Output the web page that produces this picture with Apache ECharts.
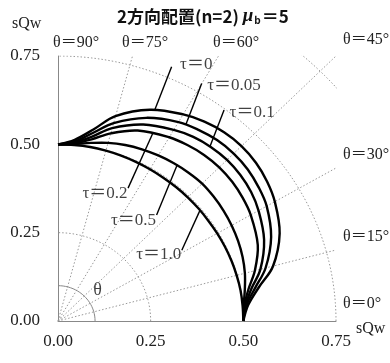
<!DOCTYPE html>
<html>
<head>
<meta charset="utf-8">
<script src="https://cdn.jsdelivr.net/npm/echarts@6/dist/echarts.min.js"></script>
<style>
  html, body { margin: 0; padding: 0; background: #fff; }
  #chart { width: 390px; height: 363px; }
</style>
</head>
<body>
<div id="chart"></div>
<script>
// Axis ticks (both axes share the same scale)
const tickValues = [0, 0.25, 0.5, 0.75];

// Polar guide lines: angle rays (deg) and radius arcs
const guideAngles = [15, 30, 45, 60, 75];
const guideRadii = [0.25, 0.5, 0.75, 1.0];
const thetaMarkRadius = 0.1;

// Interaction curves, one per τ value
const tauNames = ['τ＝0', 'τ＝0.05', 'τ＝0.1', 'τ＝0.2', 'τ＝0.5', 'τ＝1.0'];

const curveTau0 = [
  [0, 0.5], [0.045, 0.513], [0.0955, 0.542], [0.155, 0.58], [0.248, 0.598],
  [0.3375, 0.585], [0.395, 0.564], [0.448, 0.534], [0.495, 0.495], [0.534, 0.448], [0.564, 0.395],
  [0.585, 0.3375], [0.598, 0.248], [0.58, 0.155], [0.542, 0.0955], [0.513, 0.045], [0.5, 0]
];
const curveTau005 = [
  [0, 0.5], [0.0444, 0.508], [0.0938, 0.532], [0.15, 0.56], [0.238, 0.575],
  [0.325, 0.563], [0.379, 0.541], [0.429, 0.512], [0.474, 0.474], [0.512, 0.429], [0.541, 0.379],
  [0.563, 0.325], [0.575, 0.238], [0.56, 0.15], [0.532, 0.0938], [0.508, 0.0444], [0.5, 0]
];
const curveTau01 = [
  [0, 0.5], [0.0443, 0.506], [0.092, 0.522], [0.146, 0.546], [0.23, 0.556],
  [0.3125, 0.541], [0.365, 0.521], [0.413, 0.492], [0.456, 0.456], [0.492, 0.413], [0.521, 0.365],
  [0.541, 0.3125], [0.556, 0.23], [0.546, 0.146], [0.522, 0.092], [0.506, 0.0443], [0.5, 0]
];
const curveTau02 = [
  [0, 0.5], [0.044, 0.503], [0.0906, 0.514], [0.142, 0.531], [0.215, 0.539],
  [0.3, 0.52], [0.349, 0.498], [0.394, 0.47], [0.435, 0.435], [0.47, 0.394], [0.498, 0.349],
  [0.52, 0.3], [0.539, 0.215], [0.531, 0.142], [0.514, 0.0906], [0.503, 0.044], [0.5, 0]
];
const curveTau05 = [
  [0, 0.5], [0.0438, 0.501], [0.0889, 0.504], [0.1351, 0.5042], [0.1813, 0.498], [0.2265, 0.4858],
  [0.2705, 0.4685], [0.3126, 0.4464], [0.3522, 0.4198], [0.3889, 0.3889], [0.4198, 0.3522], [0.4464, 0.3126],
  [0.4685, 0.2705], [0.4858, 0.2265], [0.498, 0.1813], [0.5042, 0.1351], [0.504, 0.0889], [0.501, 0.0438], [0.5, 0]
];
const curveTau10 = [
  [0, 0.5], [0.0436, 0.498], [0.0868, 0.4924], [0.1291, 0.482], [0.1703, 0.468], [0.21, 0.4504],
  [0.248, 0.4295], [0.2839, 0.4055], [0.3182, 0.3792], [0.35, 0.35], [0.3792, 0.3182], [0.4055, 0.2839],
  [0.4295, 0.248], [0.4504, 0.21], [0.468, 0.1703], [0.482, 0.1291], [0.4924, 0.0868], [0.498, 0.0436], [0.5, 0]
];
const curves = [curveTau0, curveTau005, curveTau01, curveTau02, curveTau05, curveTau10];

// Leader lines: [label end, point on curve]
const leaderTau0 = [[0.3065, 0.7195], [0.261, 0.597]];
const leaderTau005 = [[0.3876, 0.6725], [0.345, 0.556]];
const leaderTau01 = [[0.448, 0.597], [0.41, 0.494]];
const leaderTau02 = [[0.189, 0.376], [0.257, 0.534]];
const leaderTau05 = [[0.266, 0.30], [0.322, 0.443]];
const leaderTau10 = [[0.334, 0.20], [0.383, 0.313]];
const leaders = [leaderTau0, leaderTau005, leaderTau01, leaderTau02, leaderTau05, leaderTau10];
// label placement relative to the free end of each leader
const labelSides = ['right', 'right', 'right', 'left', 'left', 'left'];
const labelGaps = [8, 5, 5, 0, 0, 0];
const labelOffsets = [[0, -2], [0, 2], [0, 2], [0, 5], [0, 6], [0, 4]];

// Angle captions around the frame
const thetaCaptions = ['θ＝90°', 'θ＝75°', 'θ＝60°', 'θ＝45°', 'θ＝30°', 'θ＝15°', 'θ＝0°'];

const serif = '"Liberation Serif", "Noto Sans CJK JP", serif';
const gothic = '"Noto Sans CJK JP", sans-serif';
const maxV = tickValues[tickValues.length - 1];
const rad = d => d * Math.PI / 180;

const series = [];

// radial guide rays from the origin to the frame edge
guideAngles.forEach(a => {
  const t = Math.tan(rad(a));
  const end = t <= 1 ? [maxV, maxV * t] : [maxV / t, maxV];
  series.push({
    type: 'line', data: [[0, 0], end], symbol: 'none', silent: true, z: 1,
    lineStyle: { color: '#999', width: 1, type: [1.5, 2] }
  });
});

// circular guide arcs
guideRadii.forEach(r => {
  const pts = [];
  for (let d = 0; d <= 90; d += 1) pts.push([r * Math.cos(rad(d)), r * Math.sin(rad(d))]);
  series.push({
    type: 'line', data: pts, symbol: 'none', silent: true, z: 1, clip: true,
    lineStyle: { color: '#999', width: 1, type: [1.5, 2] }
  });
});

// angle marker arc
{
  const pts = [];
  for (let d = 0; d <= 90; d += 2) pts.push([thetaMarkRadius * Math.cos(rad(d)), thetaMarkRadius * Math.sin(rad(d))]);
  series.push({
    type: 'line', data: pts, symbol: 'none', silent: true, z: 1,
    lineStyle: { color: '#888', width: 1 }
  });
}

// the τ curves: a smooth path through each curve's points, placed with the axes' scales
curves.forEach((c, i) => {
  series.push({
    name: tauNames[i], type: 'custom', z: 5, silent: true,
    data: [c[0]],
    renderItem: (params, api) => ({
      type: 'polyline',
      shape: { points: c.map(p => api.coord(p)), smooth: 0.35 },
      style: { stroke: '#000', lineWidth: 2.4, fill: null }
    })
  });
});

// leader lines and their labels
leaders.forEach((l, i) => {
  series.push({
    type: 'line', data: l, symbol: 'none', silent: true, z: 6,
    lineStyle: { color: '#000', width: 1.4 }
  });
  series.push({
    type: 'scatter', silent: true, z: 7, symbolSize: 1,
    itemStyle: { color: 'rgba(0,0,0,0)' },
    data: [{
      value: l[0],
      label: {
        show: true, formatter: tauNames[i], position: labelSides[i], distance: labelGaps[i],
        offset: labelOffsets[i], fontFamily: serif, fontSize: 17, color: '#111'
      }
    }]
  });
});

// θ marker label
series.push({
  type: 'scatter', silent: true, symbolSize: 1, itemStyle: { color: 'rgba(0,0,0,0)' },
  data: [{ value: [0.107, 0.087], label: { show: true, position: 'inside', formatter: 'θ', fontFamily: serif, fontSize: 18, color: '#111' } }]
});

const axisCommon = {
  type: 'value', min: tickValues[0], max: maxV, interval: 0.25,
  axisLine: { show: true, lineStyle: { color: '#888', width: 1 } },
  axisTick: { show: false },
  splitLine: { show: false },
};

const captionPos = [[53, 35], [122, 35], [213, 35], [343, 32], [343, 147], [343, 229], [343, 296]];
const captionText = (t, p) => ({ type: 'text', left: p[0], top: p[1], style: { text: t, font: '16px ' + serif, fill: '#222' } });

const chart = echarts.init(document.getElementById('chart'), null, { renderer: 'canvas' });
chart.setOption({
  animation: false,
  backgroundColor: '#fff',
  grid: { left: 58, top: 56, width: 278, height: 265 },
  xAxis: Object.assign({}, axisCommon, {
    axisLabel: { formatter: v => v.toFixed(2), fontFamily: serif, fontSize: 17, color: '#222', margin: 12 }
  }),
  yAxis: Object.assign({}, axisCommon, {
    axisLabel: { formatter: v => v.toFixed(2), fontFamily: serif, fontSize: 17, color: '#222', margin: 18 }
  }),
  graphic: [
    {
      type: 'text', left: 117, top: 7,
      style: {
        text: '2方向配置(n=2) {mu|μ}{sub|b}＝5',
        font: 'bold 17px ' + gothic, fill: '#111',
        rich: {
          mu: { fontFamily: serif, fontStyle: 'italic', fontWeight: 'bold', fontSize: 19, fill: '#111' },
          sub: { fontFamily: gothic, fontSize: 10, fontWeight: 'bold', fill: '#111', padding: [8, 1, 0, 1] }
        }
      }
    },
    { type: 'text', left: 12, top: 16, style: { text: 'sQw', font: '16px ' + serif, fill: '#222' } },
    { type: 'text', left: 356, top: 321, style: { text: 'sQw', font: '16px ' + serif, fill: '#222' } }
  ].concat(thetaCaptions.map((t, i) => captionText(t, captionPos[i]))),
  series: series
});
</script>
</body>
</html>
